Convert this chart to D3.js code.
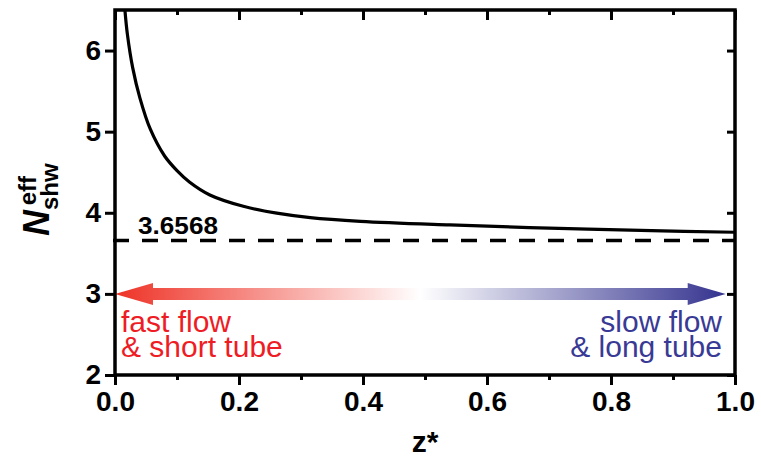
<!DOCTYPE html>
<html>
<head>
<meta charset="utf-8">
<script src="https://cdn.jsdelivr.net/npm/d3@7"></script>
<style>
  body { margin: 0; background: #fff; }
  text { font-family: "Liberation Sans", Arial, sans-serif; }
</style>
</head>
<body>
<div id="chart"></div>
<script>
// values
var zValues = [0.016, 0.020, 0.0285, 0.040, 0.057, 0.080, 0.10, 0.12, 0.153, 0.207, 0.261, 0.315, 0.396, 0.54, 0.70, 0.865, 1.0];
var nValues = [6.5, 6.2, 5.79, 5.42, 5.03, 4.70, 4.52, 4.38, 4.22, 4.08, 3.995, 3.94, 3.895, 3.85, 3.81, 3.78, 3.76];
var limitValue = 3.6568;
var xTicks = [0, 0.2, 0.4, 0.6, 0.8, 1.0];
var xMinorTicks = [0.1, 0.3, 0.5, 0.7, 0.9];
var yTicks = [2, 3, 4, 5, 6];
var arrowSpan = [0, 0.985];
var arrowLevel = 3;

var width = 761, height = 463;
var margin = { top: 10, left: 115, right: 26, bottom: 88 };
var w = width - margin.left - margin.right,
    h = height - margin.top - margin.bottom;

var svg = d3.select("#chart").append("svg")
    .attr("width", width)
    .attr("height", height);

var defs = svg.append("defs");
defs.append("clipPath").attr("id", "clip")
  .append("rect").attr("width", w).attr("height", h);

var grad = defs.append("linearGradient")
    .attr("id", "flowGrad")
    .attr("x1", "0%").attr("x2", "100%").attr("y1", "0%").attr("y2", "0%");
grad.append("stop").attr("offset", "0%").attr("stop-color", "#ee3226");
grad.append("stop").attr("offset", "50%").attr("stop-color", "#ffffff");
grad.append("stop").attr("offset", "100%").attr("stop-color", "#34338f");

var g = svg.append("g")
    .attr("transform", "translate(" + margin.left + "," + margin.top + ")");

var x = d3.scaleLinear().domain([0, 1]).range([0, w]);
var y = d3.scaleLinear().domain([2, 6.5]).range([h, 0]);

// gradient arrow
var ax0 = x(arrowSpan[0]), ax1 = x(arrowSpan[1]), ay = y(arrowLevel);
var headLen = 38, headH = 11, shaftH = 6;
var arrowPts = [
  [ax0, ay], [ax0 + headLen, ay - headH], [ax0 + headLen, ay - shaftH],
  [ax1 - headLen, ay - shaftH], [ax1 - headLen, ay - headH], [ax1, ay],
  [ax1 - headLen, ay + headH], [ax1 - headLen, ay + shaftH],
  [ax0 + headLen, ay + shaftH], [ax0 + headLen, ay + headH]
];
g.append("path")
  .attr("d", d3.line()(arrowPts) + "Z")
  .attr("fill", "url(#flowGrad)");

// dashed limit line
g.append("line")
  .attr("x1", x(0) - 2).attr("x2", x(1))
  .attr("y1", y(limitValue)).attr("y2", y(limitValue))
  .attr("stroke", "#000")
  .attr("stroke-width", 3.5)
  .attr("stroke-dasharray", "16,13");

g.append("text")
  .attr("x", x(0) + 23).attr("y", y(limitValue) - 7)
  .attr("font-size", 23).attr("font-weight", "bold")
  .attr("textLength", 80).attr("lengthAdjust", "spacingAndGlyphs")
  .text(limitValue.toFixed(4));

// curve
var pts = zValues.map(function(z, i) { return [z, nValues[i]]; });
g.append("path")
  .datum(pts)
  .attr("clip-path", "url(#clip)")
  .attr("fill", "none")
  .attr("stroke", "#000")
  .attr("stroke-width", 3.2)
  .attr("d", d3.line()
    .x(function(d) { return x(d[0]); })
    .y(function(d) { return y(d[1]); })
    .curve(d3.curveCatmullRom.alpha(0.5)));

// annotations
var red = "#ee1d25", blue = "#393a95";
var lbl = g.append("g").attr("font-size", 30);
lbl.append("text").attr("x", x(0) + 6).attr("y", 322).attr("fill", red).text("fast flow");
lbl.append("text").attr("x", x(0) + 6).attr("y", 347).attr("fill", red).text("& short tube");
lbl.append("text").attr("x", x(1) - 13).attr("y", 322).attr("fill", blue)
  .attr("text-anchor", "end").text("slow flow");
lbl.append("text").attr("x", x(1) - 13).attr("y", 347).attr("fill", blue)
  .attr("text-anchor", "end").text("& long tube");

// axes
function styleAxis(sel) {
  sel.select(".domain").remove();
  sel.selectAll("line").attr("stroke", "#000").attr("stroke-width", 3);
  sel.selectAll("text").attr("font-size", 28).attr("font-weight", "bold")
    .attr("font-family", "'Liberation Sans', Arial, sans-serif").attr("fill", "#000");
}

g.append("g").attr("transform", "translate(0," + h + ")")
  .call(d3.axisBottom(x).tickValues(xTicks).tickSize(10).tickPadding(6).tickFormat(d3.format(".1f")))
  .call(styleAxis);
g.append("g").attr("transform", "translate(0," + h + ")")
  .call(d3.axisBottom(x).tickValues(xMinorTicks).tickSize(5).tickFormat(""))
  .call(styleAxis);
g.append("g")
  .call(d3.axisTop(x).tickValues(xTicks).tickSize(-10).tickFormat(""))
  .call(styleAxis);
g.append("g")
  .call(d3.axisTop(x).tickValues(xMinorTicks).tickSize(-5).tickFormat(""))
  .call(styleAxis);
g.append("g")
  .call(d3.axisLeft(y).tickValues(yTicks).tickSize(10).tickPadding(4).tickFormat(d3.format("d")))
  .call(styleAxis);
g.append("g").attr("transform", "translate(" + w + ",0)")
  .call(d3.axisRight(y).tickValues(yTicks).tickSize(-8).tickFormat(""))
  .call(styleAxis);

// frame
g.append("rect")
  .attr("width", w).attr("height", h)
  .attr("fill", "none").attr("stroke", "#000").attr("stroke-width", 3.5);

// axis titles
svg.append("text")
  .attr("x", margin.left + w / 2).attr("y", 452)
  .attr("text-anchor", "middle")
  .attr("font-size", 30).attr("font-weight", "bold")
  .text("z*");

var yt = svg.append("text")
  .attr("transform", "translate(49,236) rotate(-90)")
  .attr("font-weight", "bold");
yt.append("tspan").attr("font-size", 36).attr("font-style", "italic").text("N");
yt.append("tspan").attr("font-size", 24).attr("dy", 9).text("shw");
yt.append("tspan").attr("font-size", 24).attr("dx", -42).attr("dy", -22).text("eff");
</script>
</body>
</html>
